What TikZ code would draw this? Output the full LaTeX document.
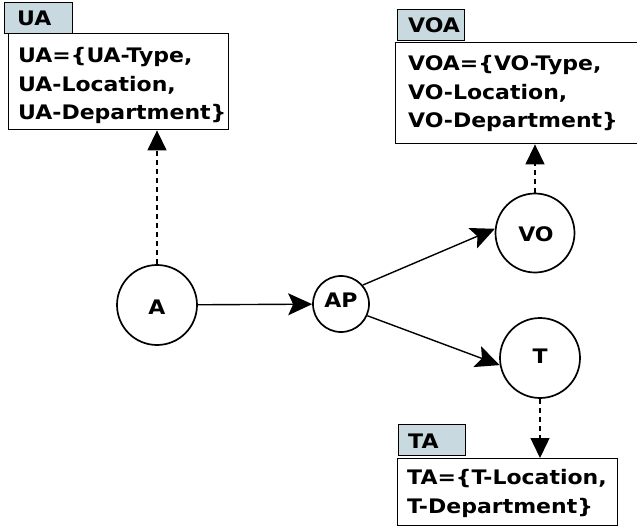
\documentclass[tikz,border=0pt]{standalone}
\usepackage{fontspec}
\newfontfamily\lbl{DejaVu Sans}[FakeStretch=1.1]
\usetikzlibrary{arrows.meta}
\definecolor{tagfill}{RGB}{200,217,224}
\begin{document}
\begin{tikzpicture}[x=1pt,y=-1pt,
  every node/.style={font=\lbl\bfseries\fontsize{20}{28.5}\selectfont},
  circ/.style={circle,draw,line width=1.7pt,inner sep=0pt},
  attrbox/.style={draw,line width=1.4pt,anchor=north west,inner sep=0pt},
  tagbox/.style={draw,fill=tagfill,line width=1.4pt,anchor=north west,inner sep=0pt},
  txt/.style={anchor=base west,inner sep=0pt,align=left},
  solidarrow/.style={line width=1.4pt,-{Stealth[length=24pt,width=22pt,inset=5pt]}},
  dasharrow/.style={line width=1.4pt,dash pattern=on 5pt off 4pt,-{Triangle[length=20pt,width=19pt]}}]
\useasboundingbox (0,0) rectangle (637,529);
% circles
\node[circ,minimum size=80pt] (A) at (157,305) {};
\node at (157,307) {A};
\node[circ,minimum size=56pt] (AP) at (341,304) {};
\node at (341,300) {AP};
\node[circ,minimum size=79pt] (VO) at (535,233) {};
\node at (536,234) {VO};
\node[circ,minimum size=80pt] (T) at (540,358) {};
\node at (540,356) {T};
% UA
\node[tagbox,minimum width=68pt,minimum height=31pt] (uatag) at (4,2) {};
\node[txt] at (17,26) {UA};
\node[attrbox,minimum width=220pt,minimum height=96pt] (uabox) at (8,33) {};
\node[txt] at (18,120) {UA=\{UA-Type,\\UA-Location,\\UA-Department\}};
% VOA
\node[tagbox,minimum width=67pt,minimum height=31pt] (voatag) at (397,9) {};
\node[txt] at (408,33) {VOA};
\node[attrbox,minimum width=250pt,minimum height=101pt] (voabox) at (395,42) {};
\node[txt] at (408,128) {VOA=\{VO-Type,\\VO-Location,\\VO-Department\}};
% TA
\node[tagbox,minimum width=67pt,minimum height=31pt] (tatag) at (398,424) {};
\node[txt] at (408,448) {TA};
\node[attrbox,minimum width=220pt,minimum height=67pt] (tabox) at (397,458) {};
\node[txt] at (407,513) {TA=\{T-Location,\\T-Department\}};
% arrows
\draw[solidarrow] (A) -- (AP);
\draw[solidarrow] (AP.41) -- (VO.174);
\draw[solidarrow] (AP.-24) -- (T.190);
\draw[dasharrow] (A.north) -- (A.north |- uabox.south);
\draw[dasharrow] (VO.north) -- (VO.north |- voabox.south);
\draw[dasharrow] (T.south) -- (T.south |- tabox.north);
\end{tikzpicture}
\end{document}
